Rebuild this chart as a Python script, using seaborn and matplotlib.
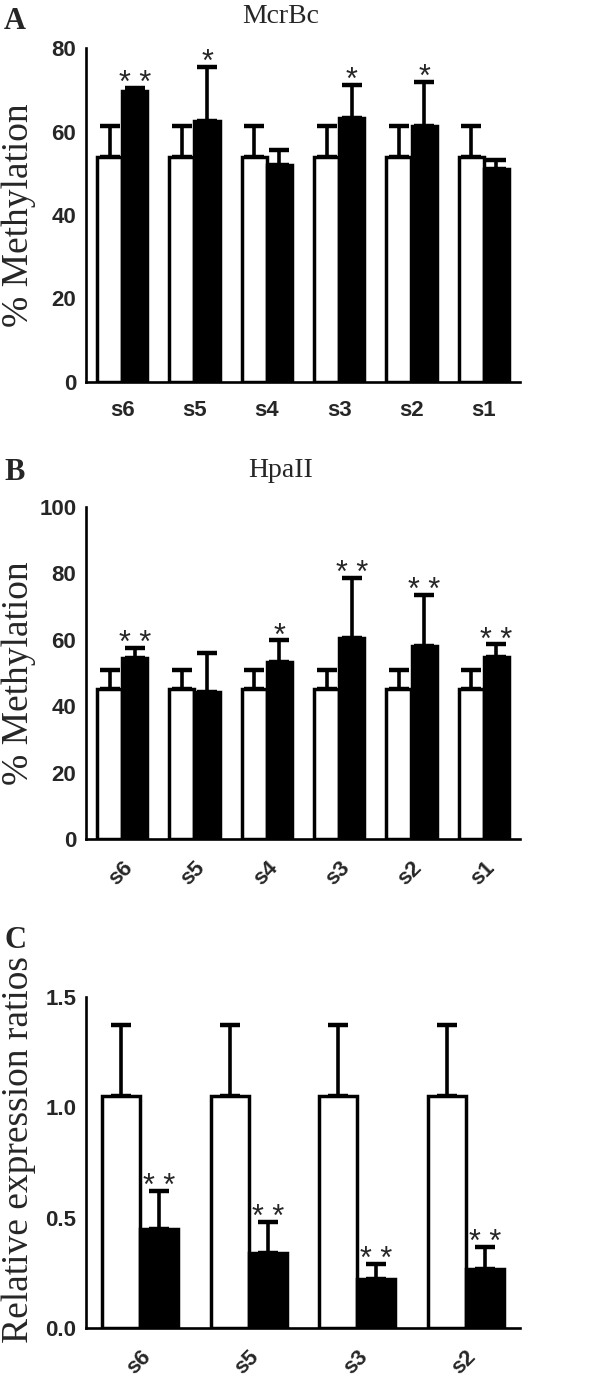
import seaborn as sns
import matplotlib.pyplot as plt
import pandas as pd

# 数据：数值
groups = ["control", "treated"]

samples_a = ["s6", "s5", "s4", "s3", "s2", "s1"]
ctrl_a = [54.0, 54.0, 54.0, 54.0, 54.0, 54.0]
ctrl_err_a = [7.4, 7.4, 7.4, 7.4, 7.4, 7.4]
trt_a = [69.6, 62.5, 52.0, 63.2, 61.2, 51.0]
trt_err_a = [0.9, 13.0, 3.6, 7.9, 10.6, 2.2]
stars_a = ["* *", "*", "", "*", "*", ""]

samples_b = ["s6", "s5", "s4", "s3", "s2", "s1"]
ctrl_b = [45.2, 45.2, 45.2, 45.2, 45.2, 45.2]
ctrl_err_b = [5.8, 5.8, 5.8, 5.8, 5.8, 5.8]
trt_b = [54.6, 44.2, 53.2, 60.5, 58.2, 54.8]
trt_err_b = [3.0, 11.8, 6.6, 18.2, 15.2, 3.8]
stars_b = ["* *", "", "*", "* *", "* *", "* *"]

samples_c = ["s6", "s5", "s3", "s2"]
ctrl_c = [1.05, 1.05, 1.05, 1.05]
ctrl_err_c = [0.325, 0.325, 0.325, 0.325]
trt_c = [0.45, 0.34, 0.223, 0.268]
trt_err_c = [0.17, 0.14, 0.068, 0.10]
stars_c = ["* *", "* *", "* *", "* *"]

SERIF = ["Liberation Serif", "DejaVu Serif"]
SANS = ["Liberation Sans", "DejaVu Sans"]


def make_df(samples, ctrl, trt):
    rows = []
    for s, c, t in zip(samples, ctrl, trt):
        rows.append({"sample": s, "group": groups[0], "value": c})
        rows.append({"sample": s, "group": groups[1], "value": t})
    return pd.DataFrame(rows)


def draw_panel(ax, samples, ctrl, ctrl_err, trt, trt_err, stars, ymax, yticks,
               ylabel, label_y, rotate, fmt):
    df = make_df(samples, ctrl, trt)
    sns.barplot(data=df, x="sample", y="value", hue="group", order=samples,
                hue_order=groups, palette=["white", "black"], edgecolor="black",
                linewidth=2.5, width=0.7, errorbar=None, legend=False, ax=ax)
    errs = [ctrl_err, trt_err]
    for cont, err in zip(ax.containers, errs):
        xs = [b.get_x() + b.get_width() / 2 for b in cont]
        ys = [b.get_height() for b in cont]
        ax.errorbar(xs, ys, yerr=[[0] * len(err), err], fmt="none",
                    ecolor="black", elinewidth=2.6, capsize=7.3, capthick=3.2,
                    zorder=0.9)
    # 显著性星号
    cont = ax.containers[1]
    for b, e, s in zip(cont, trt_err, stars):
        if s:
            ax.annotate(s, (b.get_x() + b.get_width() / 2, b.get_height() + e),
                        xytext=(0, -3), textcoords="offset points",
                        ha="center", va="baseline", fontsize=22,
                        family=SANS)
    ax.set_ylim(0, ymax)
    ax.set_yticks(yticks)
    ax.set_yticklabels([fmt.format(v) for v in yticks], fontsize=16,
                       fontweight="bold", family=SANS)
    ax.set_xlabel("")
    ax.set_ylabel(ylabel, fontsize=27, family=SERIF)
    ax.yaxis.set_label_coords(-0.115, label_y)
    ax.set_xticks(range(len(samples)))
    if rotate:
        ax.set_xticklabels(samples, rotation=45, ha="right",
                           rotation_mode="anchor", fontsize=16,
                           fontweight="bold", family=SANS)
    else:
        ax.set_xticklabels(samples, fontsize=16, fontweight="bold", family=SANS)
    for sp in ["top", "right"]:
        ax.spines[sp].set_visible(False)
    for sp in ["left", "bottom"]:
        ax.spines[sp].set_linewidth(1.9)
        ax.spines[sp].set_color("black")
    ax.tick_params(axis="y", direction="out", length=5, width=1.9, pad=2)
    ax.tick_params(axis="x", direction="out", length=7, width=1.9, pad=6)
    ax.set_xlim(-0.5, len(samples) - 0.5)


if __name__ == "__main__":
    sns.set_style("white")
    fig = plt.figure(figsize=(6, 13.89), dpi=100)

    W, H = 600, 1389
    left, right = 86 / W, 520 / W

    def add_ax(top_px, bottom_px):
        return fig.add_axes([left, 1 - bottom_px / H, right - left,
                             (bottom_px - top_px) / H])

    ax_a = add_ax(48, 382)
    ax_b = add_ax(507, 839)
    ax_c = add_ax(997, 1328)

    draw_panel(ax_a, samples_a, ctrl_a, ctrl_err_a, trt_a, trt_err_a, stars_a,
               80, [0, 20, 40, 60, 80], "% Methylation", 0.5, False, "{:g}")
    draw_panel(ax_b, samples_b, ctrl_b, ctrl_err_b, trt_b, trt_err_b, stars_b,
               100, [0, 20, 40, 60, 80, 100], "% Methylation", 0.5, True, "{:g}")
    draw_panel(ax_c, samples_c, ctrl_c, ctrl_err_c, trt_c, trt_err_c, stars_c,
               1.5, [0, 0.5, 1.0, 1.5], "Relative expression ratios", 0.54,
               True, "{:.1f}")

    # 标题和面板字母
    fig.text(281 / W, 1 - 23 / H, "McrBc", ha="center", va="baseline",
             fontsize=20, family=SERIF)
    fig.text(281 / W, 1 - 477 / H, "HpaII", ha="center", va="baseline",
             fontsize=20, family=SERIF)
    fig.text(4 / W, 1 - 29 / H, "A", ha="left", va="baseline",
             fontsize=22, fontweight="bold", family=SERIF)
    fig.text(4 / W, 1 - 480 / H, "B", ha="left", va="baseline",
             fontsize=22, fontweight="bold", family=SERIF)
    fig.text(4 / W, 1 - 948 / H, "C", ha="left", va="baseline",
             fontsize=22, fontweight="bold", family=SERIF)

    plt.savefig("out.png", dpi=100)
